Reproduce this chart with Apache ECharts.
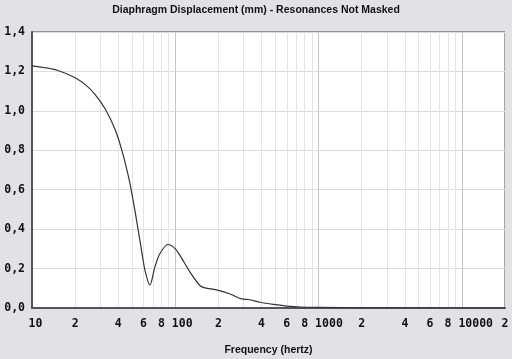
<!DOCTYPE html>
<html>
<head>
<meta charset="utf-8">
<script src="https://cdn.jsdelivr.net/npm/echarts@6/dist/echarts.min.js"></script>
<style>html,body{margin:0;padding:0;background:#e2e1e6;}#c{width:512px;height:359px;}</style>
</head>
<body>
<div id="c"></div>
<script>
const titleText = 'Diaphragm Displacement (mm) - Resonances Not Masked';
const xAxisName = 'Frequency (hertz)';
const freq = [10, 12, 15, 20, 24, 27.5, 32.3, 37.9, 42.3, 47, 49.6, 52.4, 55.2, 58.3, 61.5, 66.5, 72, 78, 89, 100, 108, 127, 149, 161, 194, 241, 290, 332, 390, 483, 598, 742, 1000, 2000, 5000, 20000];
const disp = [1.228, 1.22, 1.206, 1.168, 1.128, 1.084, 1.012, 0.908, 0.802, 0.670, 0.587, 0.490, 0.391, 0.287, 0.190, 0.117, 0.207, 0.275, 0.322, 0.300, 0.266, 0.181, 0.113, 0.102, 0.092, 0.071, 0.046, 0.042, 0.029, 0.018, 0.010, 0.005, 0.003, 0.001, 0.0, 0.0];
const xTickValues = [10, 20, 40, 60, 80, 100, 200, 400, 600, 800, 1000, 2000, 4000, 6000, 8000, 10000, 20000];
const xTickLabels = ['10', '2', '4', '6', '8', '100', '2', '4', '6', '8', '1000', '2', '4', '6', '8', '10000', '2'];
const xGridValues = [10, 20, 30, 40, 50, 60, 70, 80, 90, 100, 200, 300, 400, 500, 600, 700, 800, 900, 1000, 2000, 3000, 4000, 5000, 6000, 7000, 8000, 9000, 10000, 20000];
const yMin = 0, yMax = 1.4, yStep = 0.2;

const chart = echarts.init(document.getElementById('c'));
const labelFont = {fontFamily: 'DejaVu Sans Mono', fontWeight: 'bold', fontSize: 11.5, color: '#111'};
chart.setOption({
  backgroundColor: '#e2e1e6',
  animation: false,
  title: {text: titleText, left: 'center', top: 0,
    textStyle: {fontFamily: 'Liberation Sans', fontWeight: 'bold', fontSize: 10.5, color: '#111'}},
  grid: {left: 32, top: 32, right: 7, bottom: 51, containLabel: false, outerBoundsMode: 'none',
    show: true, backgroundColor: '#ffffff', borderColor: '#444', borderWidth: 1},
  xAxis: {
    type: 'log', logBase: 10, min: 10, max: 20000,
    name: xAxisName, nameLocation: 'middle', nameGap: 37,
    nameTextStyle: {fontFamily: 'Liberation Sans', fontWeight: 'bold', fontSize: 10.5, color: '#111'},
    axisLine: {show: true, lineStyle: {color: '#555', width: 2}},
    axisTick: {show: false, customValues: xGridValues},
    splitLine: {show: true, lineStyle: {color: ['#c4c4c4','#e4e4e4','#e4e4e4','#e4e4e4','#e4e4e4','#e4e4e4','#e4e4e4','#e4e4e4','#e4e4e4'], width: 1}},
    minorTick: {show: false},
    axisLabel: Object.assign({
      customValues: xTickValues,
      margin: 10,
      formatter: function (v) {
        let i = -1;
        for (let k = 0; k < xTickValues.length; k++) { if (Math.abs(xTickValues[k] - v) / v < 1e-6) i = k; }
        if (i < 0) return '';
        const s = xTickLabels[i];
        return ' '.repeat(s.length - 1) + s;
      }
    }, labelFont)
  },
  yAxis: {
    type: 'value', min: yMin, max: yMax, interval: yStep,
    axisLine: {show: true, lineStyle: {color: '#555', width: 2}},
    axisTick: {show: false},
    splitLine: {show: true, lineStyle: {color: '#dcdcdc', width: 1}},
    axisLabel: Object.assign({margin: 7, formatter: v => v.toFixed(1).replace('.', ',')}, labelFont)
  },
  series: [{
    type: 'line',
    data: freq.map((f, i) => [f, disp[i]]),
    smooth: 0.3,
    showSymbol: false,
    lineStyle: {color: '#333', width: 1.2}
  }]
});
</script>
</body>
</html>
